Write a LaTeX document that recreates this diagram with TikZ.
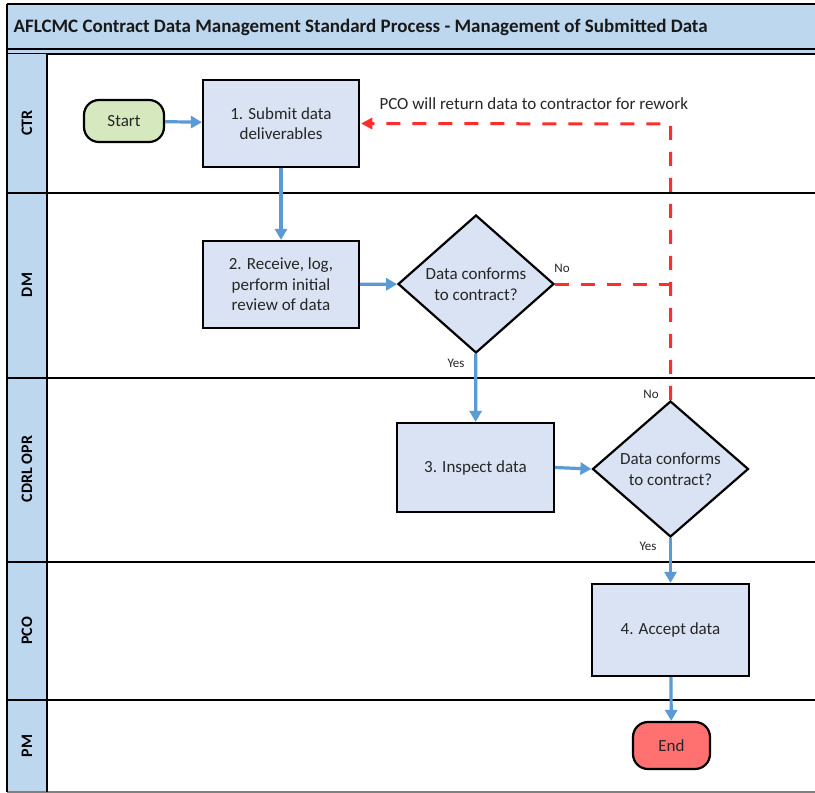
\documentclass[tikz,border=0pt]{standalone}
\usepackage{fontspec}
\setmainfont{Carlito}
\usetikzlibrary{shapes.geometric,arrows.meta}
\definecolor{lanefill}{RGB}{189,215,238}
\definecolor{boxfill}{RGB}{218,227,243}
\definecolor{startfill}{RGB}{214,232,190}
\definecolor{endfill}{RGB}{255,112,112}
\definecolor{flow}{RGB}{91,155,213}
\definecolor{back}{RGB}{255,45,45}
\begin{document}
\begin{tikzpicture}[x=1pt,y=-1pt,
  body/.style={font=\fontsize{17}{20.5}\selectfont, align=center, text=black!85},
  procbox/.style={body, draw=black, line width=2.2pt, fill=boxfill, inner sep=0pt},
  decision/.style={body, diamond, draw=black, line width=2.2pt, fill=boxfill, inner sep=0pt},
  terminal/.style={body, draw=black, line width=2.2pt, rounded corners=15pt, inner sep=0pt},
  flowarrow/.style={draw=flow, line width=3.2pt, -{Triangle[length=11pt,width=12pt]}},
  backarrow/.style={draw=back, line width=3pt, dash pattern=on 14pt off 12pt},
  lanelabel/.style={font=\fontsize{16}{16}\bfseries\selectfont, rotate=90},
  small/.style={font=\fontsize{13}{13}\selectfont, text=black!85},
  laneline/.style={draw=black, line width=2pt}]
\useasboundingbox (0,0) rectangle (815,793);
\fill[white] (0,0) rectangle (815,793);
% title bar
\fill[lanefill] (7,4) rectangle (815,54);
\draw[line width=2pt] (815,4) -- (7,4);
\draw[line width=2pt] (7,48.5) -- (815,48.5);
\draw[line width=2pt] (7,54) -- (815,54);
\node[anchor=west, font=\fontsize{19}{20}\bfseries\selectfont, text=black!90] (title) at (10,27) {AFLCMC Contract Data Management Standard Process - Management of Submitted Data};
% lane column
\fill[lanefill] (7,54) rectangle (47,792);
\draw[gray, line width=1.2pt] (7,792) -- (815,792);
\draw[laneline] (7,4) -- (7,792);
\draw[laneline] (47,54) -- (47,792);
\draw[laneline] (7,192.5) -- (815,192.5);
\draw[laneline] (7,377.5) -- (815,377.5);
\draw[laneline] (7,561.5) -- (815,561.5);
\draw[laneline] (7,700) -- (815,700);
\node[lanelabel] (lctr) at (27,123) {CTR};
\node[lanelabel] (ldm) at (27,285) {DM};
\node[lanelabel] (lcdrl) at (27,469) {CDRL OPR};
\node[lanelabel] (lpco) at (27,631) {PCO};
\node[lanelabel] (lpm) at (27,746) {PM};
% nodes
\node[terminal, fill=startfill, minimum width=80pt, minimum height=42pt] (start) at (124,121) {Start};
\node[procbox, minimum width=156pt, minimum height=87pt] (b1) at (281,123.5) {1. Submit data\\deliverables};
\node[procbox, minimum width=156pt, minimum height=87pt] (b2) at (281,284.5) {2. Receive, log,\\perform initial\\review of data};
\node[decision, minimum width=156pt, minimum height=138pt] (d1) at (476,284) {Data conforms\\to contract?};
\node[procbox, minimum width=157pt, minimum height=89pt] (b3) at (475.5,467.5) {3. Inspect data};
\node[decision, minimum width=156pt, minimum height=136pt] (d2) at (670.5,469) {Data conforms\\to contract?};
\node[procbox, minimum width=157pt, minimum height=92pt] (b4) at (670.5,630) {4. Accept data};
\node[terminal, fill=endfill, minimum width=77pt, minimum height=47pt] (end) at (671.5,745.5) {End};
% flow arrows
\draw[flowarrow] (start) -- (b1);
\draw[flowarrow] (b1) -- (b2);
\draw[flowarrow] (b2) -- (d1);
\draw[flowarrow] (d1) -- (b3);
\draw[flowarrow] (b3.east) -- (d2.west);
\draw[flowarrow] (d2) -- (b4);
\draw[flowarrow] (b4) -- (end);
% rework
\coordinate (corner) at (670.5,124);
\draw[backarrow] (d1.east) -- (d1.east -| corner);
\draw[backarrow] (d2.north) -- (corner) -- ([xshift=12pt]b1.east);
\draw[draw=back, fill=back, line width=0pt, -{Triangle[length=11pt,width=12pt]}] ([xshift=12pt]b1.east) -- ([xshift=1.2pt]b1.east);
% labels
\node[small] (no1) at (562,268) {No};
\node[small] (yes1) at (456,363) {Yes};
\node[small] (no2) at (651,394) {No};
\node[small] (yes2) at (648,546) {Yes};
\node[body, anchor=west] (rework) at (376,104) {PCO will return data to contractor for rework};
\end{tikzpicture}
\end{document}
